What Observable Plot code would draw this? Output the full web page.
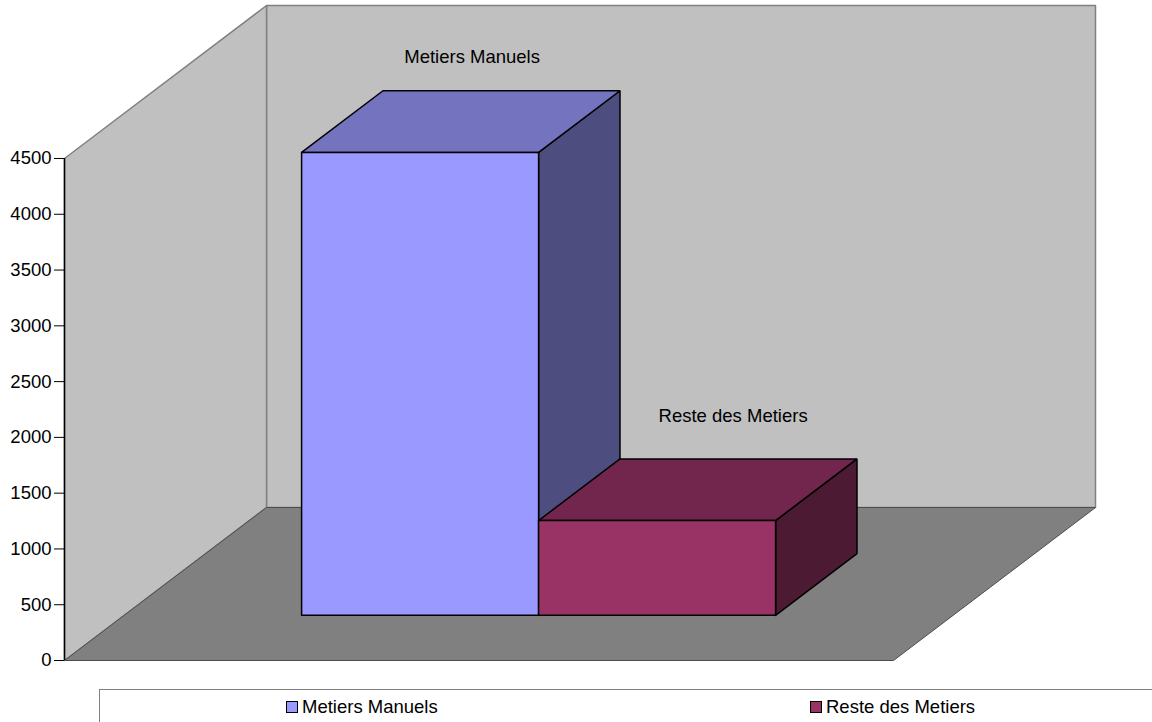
<!DOCTYPE html>
<html>
<head>
<meta charset="utf-8">
<script src="https://cdn.jsdelivr.net/npm/d3@7"></script>
<script src="https://cdn.jsdelivr.net/npm/@observablehq/plot@0.6"></script>
<style>
  html, body { margin: 0; padding: 0; background: #fff; overflow: hidden; }
  body { width: 1152px; height: 722px; font-family: "Liberation Sans", Arial, sans-serif; }
  svg { display: block; }
  #legend { position: absolute; left: 99px; top: 689px; width: 1100px; height: 60px; border: 1px solid #808080; box-sizing: border-box; font-size: 18.5px; color: #000; }
  .item { position: absolute; top: 6px; display: flex; align-items: center; line-height: 21px; }
  .sw { width: 12px; height: 12px; box-sizing: border-box; border: 1.5px solid #000; margin-right: 4px; display: inline-block; }
</style>
</head>
<body>
<div id="chart"></div>
<div id="legend"></div>
<script>
// Data
const categories = ["Metiers Manuels", "Reste des Metiers"];
const values = [4150, 850];
const yTicks = [0, 500, 1000, 1500, 2000, 2500, 3000, 3500, 4000, 4500];
const frontColors = ["#9999ff", "#993366"];
const topColors = ["#7373bf", "#73264d"];
const sideColors = ["#4d4d80", "#4d1a33"];
const legendLeft = [186, 710];

// Oblique 3-D projection: depth 0..1 shifts x and y in scale units
const yMax = 4500;
const depthX = 202 / 829;     // x units per full depth
const depthY = 1371.5;        // value units per full depth
const barW = 237 / 829;       // bar width as a fraction of the floor width
const gap = (1 - 2 * barW) / 2;
const dFront = 0.295, dBack = 0.698;

const P = (x, v, d) => ({x: x + d * depthX, y: v + d * depthY});
const poly = (...pts) => { const a = pts.map(p => P(...p)); a.push(a[0]); return a; };
const face = (pts, fill, stroke, sw = 1.5) =>
  Plot.line(pts, {x: "x", y: "y", fill, stroke, strokeWidth: sw, strokeLinejoin: "miter", curve: "linear"});

const marks = [
  // walls and floor
  face(poly([0, 0, 1], [1, 0, 1], [1, yMax, 1], [0, yMax, 1]), "#c0c0c0", "#808080"),
  face(poly([0, 0, 0], [0, 0, 1], [0, yMax, 1], [0, yMax, 0]), "#c0c0c0", "#808080"),
  face(poly([0, 0, 0], [1, 0, 0], [1, 0, 1], [0, 0, 1]), "#808080", "#4d4d4d", 1)
];

values.forEach((v, i) => {
  const x0 = gap + i * barW, x1 = x0 + barW;
  marks.push(
    face(poly([x1, 0, dFront], [x1, 0, dBack], [x1, v, dBack], [x1, v, dFront]), sideColors[i], "#000"),
    face(poly([x0, v, dFront], [x1, v, dFront], [x1, v, dBack], [x0, v, dBack]), topColors[i], "#000"),
    face(poly([x0, 0, dFront], [x1, 0, dFront], [x1, v, dFront], [x0, v, dFront]), frontColors[i], "#000")
  );
});

const labelShift = [[52, -95], [76, -104]];
values.forEach((v, i) => {
  const c = P(gap + (i + 0.5) * barW, v, dFront);
  marks.push(Plot.text([categories[i]], {
    x: () => c.x, y: () => c.y, text: d => d,
    dx: labelShift[i][0], dy: labelShift[i][1],
    fontSize: 18.5, fill: "#000", textAnchor: "middle"
  }));
});

// y axis
marks.push(
  Plot.ruleX([0], {y1: 0, y2: yMax, stroke: "#000", strokeWidth: 1.5}),
  Plot.axisY(yTicks, {tickSize: 10, tickPadding: 3, label: null, fontSize: 18.5, tickFormat: d => String(d), stroke: "#000", strokeOpacity: 1, strokeWidth: 1})
);

const chart = Plot.plot({
  width: 1152,
  height: 680,
  marginLeft: 64,
  marginRight: 57,
  marginTop: 5,
  marginBottom: 20,
  x: {domain: [0, 1 + depthX], axis: null},
  y: {domain: [0, yMax + depthY], axis: null},
  style: {fontFamily: "'Liberation Sans', Arial, sans-serif", background: "transparent", fontSize: "18.5px", color: "#000"},
  marks
});
document.getElementById("chart").appendChild(chart);

const legend = document.getElementById("legend");
categories.forEach((c, i) => {
  const it = document.createElement("div");
  it.className = "item";
  it.style.left = legendLeft[i] + "px";
  const sw = document.createElement("span");
  sw.className = "sw";
  sw.style.background = frontColors[i];
  it.appendChild(sw);
  it.appendChild(document.createTextNode(c));
  legend.appendChild(it);
});
</script>
</body>
</html>
